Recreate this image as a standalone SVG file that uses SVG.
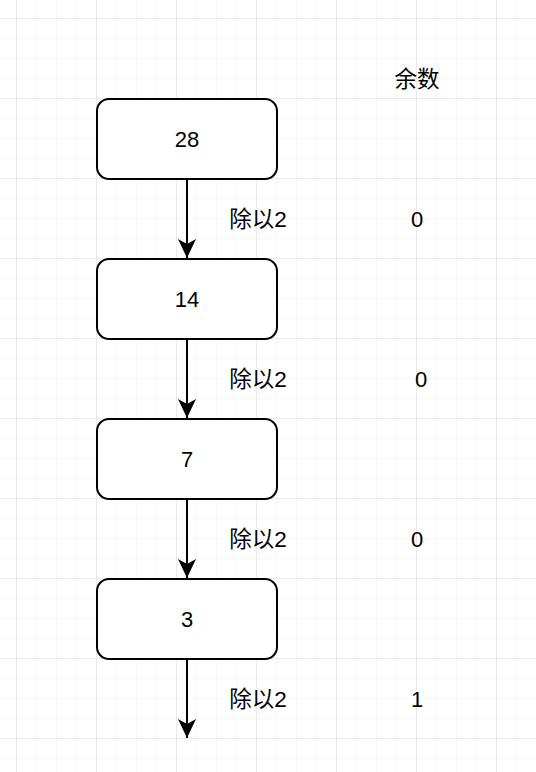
<svg xmlns="http://www.w3.org/2000/svg" width="536" height="772" viewBox="0 0 536 772">
<defs>
<pattern id="minor" width="20" height="20" patternUnits="userSpaceOnUse" x="16" y="18">
<path d="M0 0H20M0 0V20" fill="none" stroke="#f0f0f0" stroke-width="1"/>
</pattern>
<pattern id="major" width="80" height="80" patternUnits="userSpaceOnUse" x="16" y="18">
<path d="M0 0H80M0 0V80" fill="none" stroke="#dedede" stroke-width="1"/>
</pattern>
<marker id="arr" viewBox="0 0 20 20" refX="19" refY="10" markerWidth="20" markerHeight="20" markerUnits="userSpaceOnUse" orient="auto">
<path d="M0 1 L19 10 L0 19 L5 10 Z" fill="#000"/>
</marker>
</defs>
<style>
.box{fill:#fff;stroke:#000;stroke-width:2}
.t{font-family:"Liberation Sans","Noto Sans CJK SC",sans-serif;font-size:22px;fill:#000;text-anchor:middle;dominant-baseline:central}
.c{font-size:22.5px}
.e{stroke:#000;stroke-width:2;fill:none}
</style>
<rect width="536" height="772" fill="#fff"/>
<rect x="0" y="0" width="536" height="772" fill="url(#minor)"/>
<rect x="0" y="0" width="536" height="772" fill="url(#major)"/>
<g id="connectors">
<line class="e" x1="187" y1="179" x2="187" y2="258" marker-end="url(#arr)"/>
<line class="e" x1="187" y1="339" x2="187" y2="418" marker-end="url(#arr)"/>
<line class="e" x1="187" y1="499" x2="187" y2="578" marker-end="url(#arr)"/>
<line class="e" x1="187" y1="659" x2="187" y2="738" marker-end="url(#arr)"/>
</g>
<g id="n28"><rect class="box" x="97" y="99" width="180" height="80" rx="12"/><text class="t" x="187" y="139">28</text></g>
<g id="n14"><rect class="box" x="97" y="259" width="180" height="80" rx="12"/><text class="t" x="187" y="299">14</text></g>
<g id="n7"><rect class="box" x="97" y="419" width="180" height="80" rx="12"/><text class="t" x="187" y="459">7</text></g>
<g id="n3"><rect class="box" x="97" y="579" width="180" height="80" rx="12"/><text class="t" x="187" y="619">3</text></g>
<g id="labels">
<text class="t c" x="258" y="219">除以2</text>
<text class="t c" x="258" y="379">除以2</text>
<text class="t c" x="258" y="539">除以2</text>
<text class="t c" x="258" y="699">除以2</text>
<text class="t c" x="417" y="79">余数</text>
<text class="t" x="417" y="219">0</text>
<text class="t" x="421" y="379">0</text>
<text class="t" x="417" y="539">0</text>
<text class="t" x="417" y="699">1</text>
</g>
</svg>
